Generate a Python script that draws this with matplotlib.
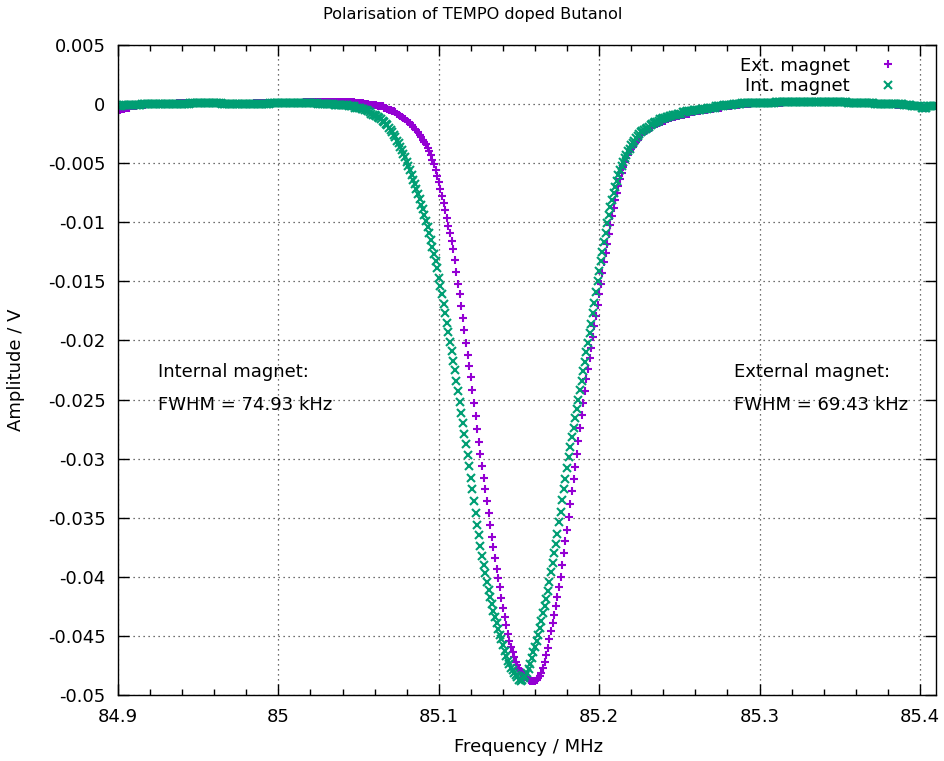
import numpy as np
import matplotlib
matplotlib.use('Agg')
import matplotlib.pyplot as plt
from matplotlib.ticker import MultipleLocator, FuncFormatter

# Frequency sweep: 84.900 MHz upwards in 1 kHz steps
f_start = 84.900
f_step = 0.001

# Signal amplitude in mV, one row per 10 kHz
ext_mv = [
    -0.5, -0.5, -0.4, -0.4, -0.4, -0.3, -0.3, -0.3, -0.2, -0.2,   # 84.90
    -0.2, -0.2, -0.1, -0.1, -0.1, -0.1, -0.1, -0.1, 0.0, 0.0,
    0.0, 0.0, 0.0, 0.0, 0.0, 0.0, 0.0, 0.0, 0.0, 0.0,
    0.0, 0.0, 0.0, 0.0, 0.0, 0.0, 0.0, 0.1, 0.1, 0.1,
    0.1, 0.1, 0.1, 0.1, 0.1, 0.1, 0.1, 0.1, 0.1, 0.1,
    0.1, 0.1, 0.1, 0.1, 0.1, 0.1, 0.1, 0.1, 0.1, 0.1,   # 84.95
    0.1, 0.1, 0.1, 0.1, 0.1, 0.0, 0.0, 0.0, 0.0, 0.0,
    0.0, 0.0, 0.0, 0.0, 0.0, 0.0, 0.0, 0.0, 0.0, 0.0,
    0.0, 0.0, 0.0, 0.0, 0.0, 0.1, 0.1, 0.1, 0.1, 0.1,
    0.1, 0.1, 0.1, 0.1, 0.1, 0.1, 0.1, 0.1, 0.1, 0.1,
    0.1, 0.1, 0.1, 0.1, 0.1, 0.1, 0.1, 0.1, 0.1, 0.1,   # 85.00
    0.1, 0.1, 0.1, 0.1, 0.1, 0.1, 0.2, 0.2, 0.2, 0.2,
    0.2, 0.2, 0.2, 0.2, 0.2, 0.2, 0.2, 0.2, 0.2, 0.2,
    0.2, 0.2, 0.2, 0.2, 0.2, 0.2, 0.2, 0.2, 0.2, 0.2,
    0.2, 0.2, 0.2, 0.2, 0.2, 0.2, 0.2, 0.2, 0.1, 0.1,
    0.1, 0.1, 0.1, 0.1, 0.0, 0.0, 0.0, -0.1, -0.1, -0.1,   # 85.05
    -0.1, -0.1, -0.2, -0.2, -0.2, -0.2, -0.3, -0.3, -0.4, -0.5,
    -0.5, -0.6, -0.6, -0.7, -0.8, -0.9, -1.0, -1.1, -1.2, -1.3,
    -1.4, -1.5, -1.6, -1.8, -1.9, -2.1, -2.2, -2.4, -2.6, -2.8,
    -3.0, -3.2, -3.4, -3.7, -4.0, -4.3, -4.7, -5.1, -5.6, -6.1,
    -6.6, -7.2, -7.8, -8.4, -9.0, -9.6, -10.3, -10.9, -11.6, -12.3,   # 85.10
    -13.2, -14.2, -15.2, -16.1, -17.1, -18.1, -19.1, -20.2, -21.2, -22.2,
    -23.1, -24.2, -25.3, -26.4, -27.5, -28.6, -29.6, -30.6, -31.6, -32.6,
    -33.6, -34.6, -35.6, -36.6, -37.5, -38.4, -39.3, -40.1, -40.9, -41.8,
    -42.6, -43.4, -44.1, -44.8, -45.4, -45.9, -46.4, -46.8, -47.2, -47.5,
    -47.8, -48.0, -48.2, -48.4, -48.5, -48.6, -48.7, -48.8, -48.8, -48.8,   # 85.15
    -48.8, -48.7, -48.6, -48.4, -48.1, -47.7, -47.2, -46.6, -46.0, -45.3,
    -44.6, -43.9, -43.2, -42.5, -41.7, -40.9, -40.0, -39.0, -38.0, -37.0,
    -36.0, -34.9, -33.8, -32.7, -31.7, -30.7, -29.6, -28.5, -27.4, -26.3,
    -25.3, -24.3, -23.3, -22.4, -21.5, -20.6, -19.7, -18.8, -17.9, -17.0,
    -16.1, -15.2, -14.3, -13.4, -12.6, -11.8, -11.0, -10.2, -9.5, -8.8,   # 85.20
    -8.1, -7.5, -6.9, -6.3, -5.8, -5.3, -4.9, -4.6, -4.3, -4.0,
    -3.8, -3.6, -3.4, -3.2, -3.0, -2.8, -2.6, -2.5, -2.4, -2.3,
    -2.2, -2.1, -2.0, -1.9, -1.8, -1.7, -1.7, -1.6, -1.5, -1.5,
    -1.4, -1.4, -1.3, -1.3, -1.2, -1.2, -1.1, -1.1, -1.0, -1.0,
    -1.0, -0.9, -0.9, -0.9, -0.8, -0.8, -0.8, -0.7, -0.7, -0.7,   # 85.25
    -0.6, -0.6, -0.6, -0.6, -0.5, -0.5, -0.5, -0.5, -0.4, -0.4,
    -0.4, -0.4, -0.3, -0.3, -0.3, -0.3, -0.3, -0.2, -0.2, -0.2,
    -0.2, -0.2, -0.2, -0.1, -0.1, -0.1, -0.1, -0.1, 0.0, 0.0,
    0.0, 0.0, 0.0, 0.0, 0.0, 0.1, 0.1, 0.1, 0.1, 0.1,
    0.1, 0.1, 0.1, 0.1, 0.1, 0.1, 0.1, 0.1, 0.1, 0.1,   # 85.30
    0.1, 0.1, 0.1, 0.1, 0.1, 0.2, 0.2, 0.2, 0.2, 0.2,
    0.2, 0.2, 0.2, 0.2, 0.2, 0.2, 0.2, 0.2, 0.2, 0.2,
    0.2, 0.2, 0.2, 0.2, 0.2, 0.2, 0.2, 0.2, 0.2, 0.2,
    0.2, 0.2, 0.2, 0.2, 0.2, 0.2, 0.2, 0.2, 0.2, 0.2,
    0.2, 0.2, 0.2, 0.2, 0.2, 0.1, 0.1, 0.1, 0.1, 0.1,   # 85.35
    0.1, 0.1, 0.1, 0.1, 0.1, 0.1, 0.1, 0.1, 0.1, 0.1,
    0.1, 0.1, 0.1, 0.0, 0.0, 0.0, 0.0, 0.0, 0.0, 0.0,
    0.0, 0.0, 0.0, 0.0, 0.0, -0.1, -0.1, -0.1, -0.1, -0.1,
    -0.1, -0.1, -0.1, -0.1, -0.1, -0.2, -0.2, -0.2, -0.2, -0.2,
    -0.2, -0.2, -0.3, -0.3, -0.3, -0.3, -0.2, -0.2, -0.2, -0.2,   # 85.40
    -0.2,
]

int_mv = [
    -0.2, -0.2, -0.2, -0.1, -0.1, -0.1, -0.1, -0.1, -0.1, -0.1,   # 84.90
    -0.1, -0.1, -0.1, -0.1, -0.1, 0.0, 0.0, 0.0, 0.0, 0.0,
    0.0, 0.0, 0.0, 0.0, 0.0, 0.0, 0.0, 0.0, 0.0, 0.0,
    0.0, 0.0, 0.0, 0.0, 0.0, 0.0, 0.0, 0.0, 0.0, 0.0,
    0.0, 0.0, 0.0, 0.0, 0.0, 0.1, 0.1, 0.1, 0.1, 0.1,
    0.1, 0.1, 0.1, 0.1, 0.1, 0.1, 0.1, 0.1, 0.1, 0.1,   # 84.95
    0.1, 0.1, 0.1, 0.1, 0.1, 0.0, 0.0, 0.0, 0.0, 0.0,
    0.0, 0.0, 0.0, 0.0, 0.0, 0.0, 0.0, 0.0, 0.0, 0.0,
    0.0, 0.0, 0.0, 0.0, 0.0, 0.0, 0.0, 0.0, 0.0, 0.0,
    0.0, 0.0, 0.0, 0.0, 0.0, 0.1, 0.1, 0.1, 0.1, 0.1,
    0.1, 0.1, 0.1, 0.1, 0.1, 0.1, 0.1, 0.1, 0.1, 0.1,   # 85.00
    0.1, 0.1, 0.1, 0.1, 0.1, 0.1, 0.1, 0.1, 0.1, 0.1,
    0.1, 0.1, 0.1, 0.1, 0.1, 0.0, 0.0, 0.0, 0.0, 0.0,
    0.0, 0.0, 0.0, 0.0, 0.0, -0.1, -0.1, -0.1, -0.1, -0.1,
    -0.1, -0.1, -0.1, -0.1, -0.2, -0.2, -0.2, -0.2, -0.3, -0.3,
    -0.3, -0.3, -0.4, -0.4, -0.5, -0.5, -0.6, -0.7, -0.8, -0.9,   # 85.05
    -0.9, -1.0, -1.1, -1.2, -1.3, -1.4, -1.5, -1.7, -1.8, -2.0,
    -2.2, -2.4, -2.6, -2.8, -3.1, -3.3, -3.6, -3.9, -4.2, -4.5,
    -4.9, -5.2, -5.6, -6.0, -6.4, -6.8, -7.2, -7.6, -8.0, -8.5,
    -8.9, -9.4, -9.9, -10.4, -10.9, -11.5, -12.1, -12.7, -13.3, -13.9,
    -14.7, -15.4, -16.1, -16.9, -17.7, -18.5, -19.3, -20.1, -20.9, -21.7,   # 85.10
    -22.5, -23.4, -24.3, -25.2, -26.1, -27.0, -27.9, -28.8, -29.7, -30.6,
    -31.6, -32.6, -33.6, -34.6, -35.6, -36.5, -37.4, -38.2, -39.0, -39.7,
    -40.4, -41.1, -41.7, -42.3, -42.9, -43.4, -43.9, -44.4, -44.9, -45.3,
    -45.8, -46.3, -46.7, -47.1, -47.4, -47.7, -47.9, -48.1, -48.3, -48.5,
    -48.7, -48.8, -48.7, -48.6, -48.4, -48.1, -47.8, -47.4, -46.9, -46.4,   # 85.15
    -45.9, -45.4, -44.9, -44.3, -43.7, -43.1, -42.5, -41.9, -41.2, -40.4,
    -39.6, -38.8, -38.0, -37.2, -36.4, -35.4, -34.5, -33.5, -32.6, -31.7,
    -30.8, -29.9, -29.0, -28.2, -27.4, -26.6, -25.8, -25.0, -24.2, -23.4,
    -22.6, -21.8, -21.0, -20.2, -19.4, -18.6, -17.7, -16.8, -15.9, -15.0,
    -14.1, -13.3, -12.5, -11.7, -10.9, -10.1, -9.4, -8.7, -8.1, -7.5,   # 85.20
    -7.0, -6.5, -6.0, -5.6, -5.2, -4.9, -4.6, -4.3, -4.0, -3.8,
    -3.5, -3.3, -3.1, -2.9, -2.7, -2.5, -2.4, -2.3, -2.2, -2.1,
    -2.0, -1.9, -1.8, -1.7, -1.6, -1.5, -1.5, -1.4, -1.3, -1.3,
    -1.2, -1.2, -1.1, -1.1, -1.0, -1.0, -0.9, -0.9, -0.9, -0.8,
    -0.8, -0.8, -0.7, -0.7, -0.7, -0.6, -0.6, -0.6, -0.6, -0.5,   # 85.25
    -0.5, -0.5, -0.5, -0.5, -0.4, -0.4, -0.4, -0.4, -0.3, -0.3,
    -0.3, -0.3, -0.3, -0.2, -0.2, -0.2, -0.2, -0.2, -0.1, -0.1,
    -0.1, -0.1, -0.1, -0.1, 0.0, 0.0, 0.0, 0.0, 0.0, 0.1,
    0.1, 0.1, 0.1, 0.1, 0.1, 0.1, 0.1, 0.1, 0.1, 0.1,
    0.1, 0.1, 0.1, 0.1, 0.1, 0.1, 0.1, 0.1, 0.1, 0.1,   # 85.30
    0.2, 0.2, 0.2, 0.2, 0.2, 0.2, 0.2, 0.2, 0.2, 0.2,
    0.2, 0.2, 0.2, 0.2, 0.2, 0.2, 0.2, 0.2, 0.2, 0.2,
    0.2, 0.2, 0.2, 0.2, 0.2, 0.2, 0.2, 0.2, 0.2, 0.2,
    0.2, 0.2, 0.2, 0.2, 0.2, 0.2, 0.2, 0.2, 0.2, 0.2,
    0.2, 0.2, 0.2, 0.2, 0.2, 0.1, 0.1, 0.1, 0.1, 0.1,   # 85.35
    0.1, 0.1, 0.1, 0.1, 0.1, 0.1, 0.1, 0.1, 0.1, 0.1,
    0.1, 0.1, 0.0, 0.0, 0.0, 0.0, 0.0, 0.0, 0.0, 0.0,
    0.0, 0.0, 0.0, 0.0, 0.0, 0.0, 0.0, 0.0, 0.0, 0.0,
    -0.1, -0.1, -0.1, -0.1, -0.1, -0.2, -0.2, -0.2, -0.2, -0.2,
    -0.2, -0.3, -0.3, -0.3, -0.3, -0.2, -0.2, -0.2, -0.2, -0.2,   # 85.40
    -0.2,
]

fwhm_int = 74.93  # kHz
fwhm_ext = 69.43

freq_ext = f_start + f_step * np.arange(len(ext_mv))
freq_int = f_start + f_step * np.arange(len(int_mv))
amp_ext = np.array(ext_mv) / 1000.0   # V
amp_int = np.array(int_mv) / 1000.0

W, H = 945, 761
fs = 13
fig = plt.figure(figsize=(W / 100, H / 100), dpi=100)
ax = fig.add_axes([118 / W, 1 - 695 / H, (936 - 118) / W, (695 - 45) / H])

ax.plot(freq_ext, amp_ext, '+', color='#9400d3', ms=6.2, mew=1.5, label='Ext. magnet')
ax.plot(freq_int, amp_int, 'x', color='#009e73', ms=5.4, mew=1.5, label='Int. magnet')

ax.set_xlim(84.9, 85.41)
ax.set_ylim(-0.05, 0.005)
ax.xaxis.set_major_locator(MultipleLocator(0.1))
ax.xaxis.set_minor_locator(MultipleLocator(0.02))
ax.yaxis.set_major_locator(MultipleLocator(0.005))
fmt = FuncFormatter(lambda v, p: '%g' % (round(v, 6) + 0.0))
ax.xaxis.set_major_formatter(fmt)
ax.yaxis.set_major_formatter(fmt)
ax.tick_params(which='both', direction='in', top=True, right=True, labelsize=fs)
ax.tick_params(which='major', length=8, width=1, pad=9)
ax.tick_params(which='minor', length=4, width=1)
ax.grid(True, which='major', color='0.25', linestyle=(0, (1, 3)), linewidth=0.9)
for s in ax.spines.values():
    s.set_linewidth(1.0)

ax.text(84.925, -0.0227, 'Internal magnet:', fontsize=fs, va='center')
ax.text(84.925, -0.0255, 'FWHM = %.2f kHz' % fwhm_int, fontsize=fs, va='center')
ax.text(85.284, -0.0227, 'External magnet:', fontsize=fs, va='center')
ax.text(85.284, -0.0255, 'FWHM = %.2f kHz' % fwhm_ext, fontsize=fs, va='center')

ax.legend(loc='upper right', bbox_to_anchor=(0.952, 0.982), frameon=False,
          markerfirst=False, numpoints=1, fontsize=fs, handlelength=1.0,
          handletextpad=1.6, labelspacing=0.12, borderpad=0, borderaxespad=0)

fig.text(0.5, 1 - 15 / H, 'Polarisation of TEMPO doped Butanol', ha='center', va='center', fontsize=11.6)
fig.text(529 / W, 1 - 747 / H, 'Frequency / MHz', ha='center', va='center', fontsize=fs)
fig.text(16 / W, 1 - 370 / H, 'Amplitude / V', ha='center', va='center', rotation=90, fontsize=fs)

fig.savefig('out.png', dpi=100)
